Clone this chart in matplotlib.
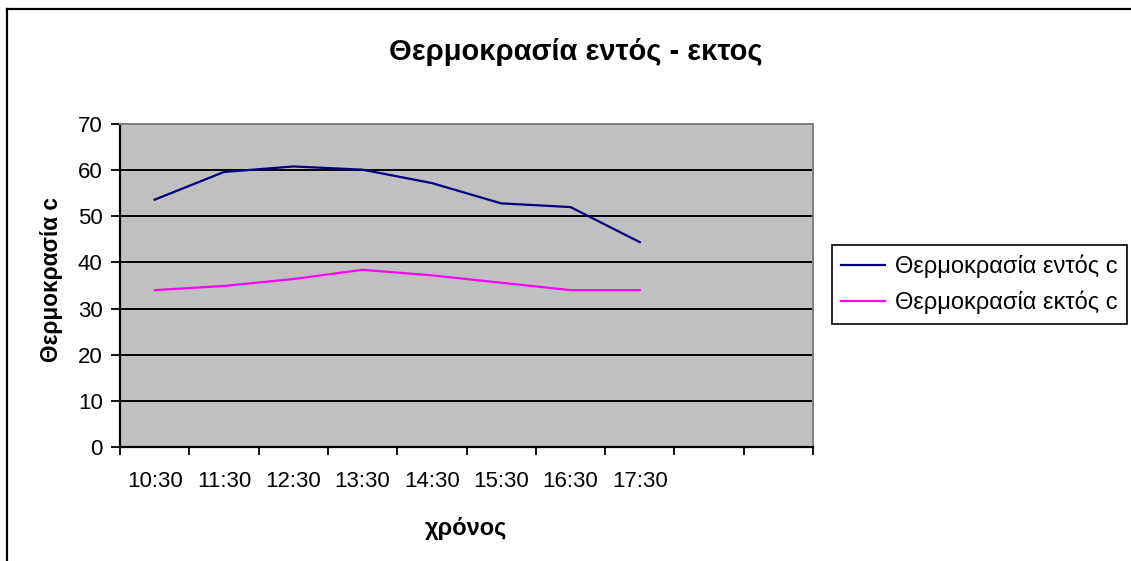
import matplotlib
matplotlib.use("Agg")
import numpy as np
import matplotlib.pyplot as plt
from matplotlib.lines import Line2D

# δεδομένα
times = ["10:30", "11:30", "12:30", "13:30", "14:30", "15:30", "16:30", "17:30", "", ""]
temp_in = [53.6, 59.6, 60.8, 60.1, 57.2, 52.8, 52.0, 44.4]
temp_out = [34.0, 34.9, 36.4, 38.4, 37.2, 35.6, 34.0, 34.0]
yticks = [0, 10, 20, 30, 40, 50, 60, 70]

plt.rcParams['font.family'] = ['Liberation Sans', 'DejaVu Sans']

fig = plt.figure(figsize=(11.31, 5.61), dpi=100)
ax = fig.add_axes([120 / 1131, 1 - 447 / 561, 693 / 1131, 323 / 561])
ax.set_facecolor('#C0C0C0')

x = np.arange(len(temp_in))
ax.plot(x, temp_in, color='#000080', lw=1.6, label='Θερμοκρασία εντός c', zorder=3)
ax.plot(x, temp_out, color='#FF00FF', lw=1.6, label='Θερμοκρασία εκτός c', zorder=3)

ax.set_xlim(-0.5, len(times) - 0.5)
ax.set_ylim(0, 70)
ax.set_yticks(yticks)
ax.yaxis.grid(True, color='black', lw=1.4)
ax.set_axisbelow(True)

# ticks στα όρια των κατηγοριών, ετικέτες στο κέντρο
ax.set_xticks(np.arange(len(times) + 1) - 0.5)
ax.set_xticklabels([])
ax.set_xticks(np.arange(len(times)), minor=True)
ax.set_xticklabels(times, minor=True)
ax.tick_params(axis='x', which='major', direction='out', length=5.5, width=1.3, color='black')
ax.tick_params(axis='x', which='minor', length=0, pad=17, labelsize=16)
ax.tick_params(axis='y', direction='out', length=6.5, width=1.3, color='black', pad=6, labelsize=16)

ax.spines['left'].set_color('black')
ax.spines['left'].set_linewidth(1.6)
ax.spines['bottom'].set_color('black')
ax.spines['bottom'].set_linewidth(1.6)
ax.spines['top'].set_color('#808080')
ax.spines['top'].set_linewidth(1.4)
ax.spines['right'].set_color('#808080')
ax.spines['right'].set_linewidth(1.4)

fig.text(576 / 1131, 1 - 52 / 561, 'Θερμοκρασία εντός - εκτος', ha='center', va='center',
         fontsize=21, fontweight='bold')
fig.text(466 / 1131, 1 - 528 / 561, 'χρόνος', ha='center', va='center',
         fontsize=17, fontweight='bold')
fig.text(52 / 1131, 1 - 279 / 561, 'Θερμοκρασία c', ha='center', va='center',
         fontsize=16.3, fontweight='bold', rotation=90)

leg = fig.legend(loc='upper left', bbox_to_anchor=(832 / 1131, 1 - 245 / 561),
                 fontsize=17, frameon=True, fancybox=False, edgecolor='black',
                 framealpha=1, handlelength=1.85, handletextpad=0.4,
                 borderpad=0.4, labelspacing=0.55, borderaxespad=0)
leg.get_frame().set_linewidth(1.2)

# περίγραμμα περιοχής γραφήματος (κομμένο δεξιά/κάτω)
fig.add_artist(Line2D([7 / 1131, 7 / 1131], [0, 1 - 9 / 561], transform=fig.transFigure,
                      color='black', lw=1.6))
fig.add_artist(Line2D([7 / 1131, 1], [1 - 9 / 561, 1 - 9 / 561], transform=fig.transFigure,
                      color='black', lw=1.6))

fig.savefig('out.png', dpi=100)
